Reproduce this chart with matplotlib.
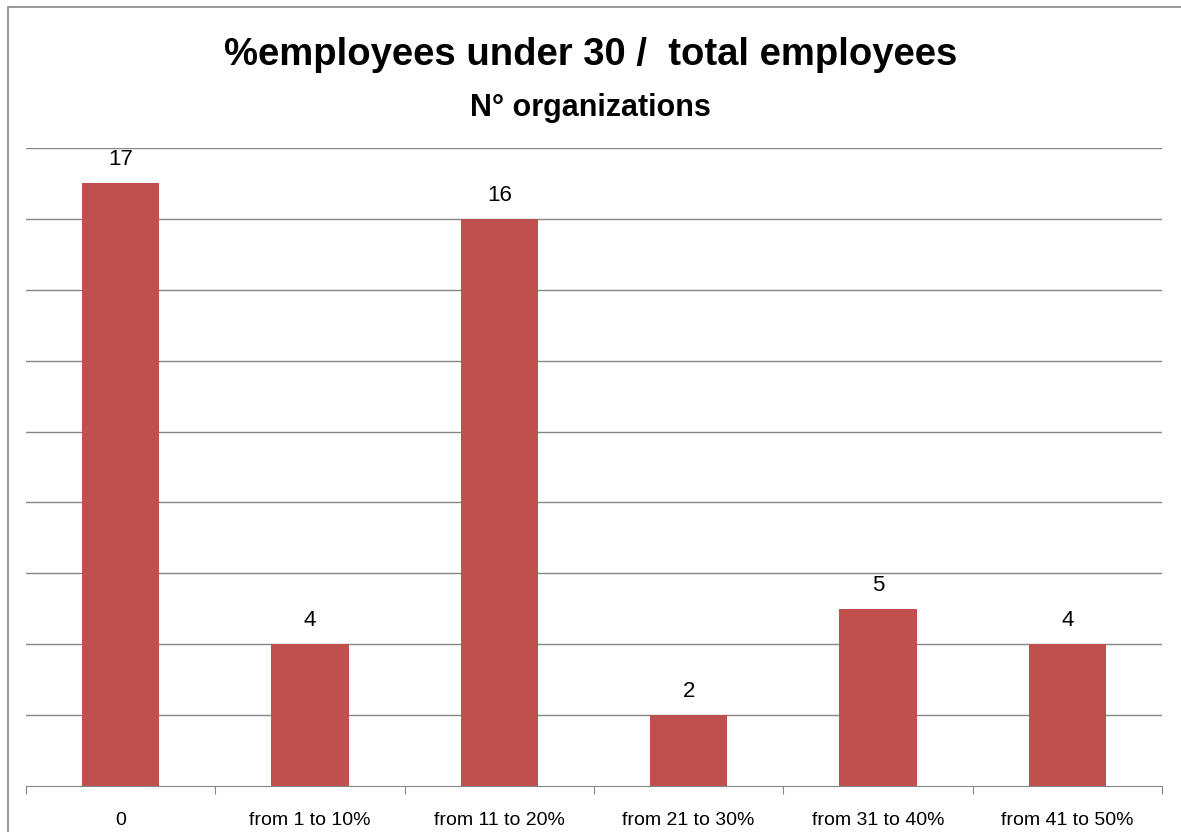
import numpy as np
import matplotlib
matplotlib.use("Agg")
import matplotlib.pyplot as plt
from matplotlib.patches import Rectangle

# data
categories = ["0", "from 1 to 10%", "from 11 to 20%", "from 21 to 30%",
              "from 31 to 40%", "from 41 to 50%"]
n_orgs = [17, 4, 16, 2, 5, 4]
y_max = 18
grid_step = 2

W, H = 1181, 832
plt.rcParams['font.family'] = ['Liberation Sans', 'DejaVu Sans']

fig = plt.figure(figsize=(W / 100, H / 100), dpi=100)
ax = fig.add_axes([26 / W, 1 - 786 / H, (1162 - 26) / W, (786 - 148) / H])

x = np.arange(len(categories))
ax.bar(x, n_orgs, width=0.41, color="#C0504D", zorder=3)
for xi, v in zip(x, n_orgs):
    ax.annotate(str(v), (xi, v), xytext=(0, 9.5), textcoords="offset points",
                ha="center", va="bottom", fontsize=16)

ax.set_xlim(-0.5, len(categories) - 0.5)
ax.set_ylim(0, y_max)
ax.set_yticks(np.arange(grid_step, y_max + 1, grid_step))
ax.yaxis.grid(True, color="#868686", lw=1)
ax.tick_params(axis="y", left=False, labelleft=False)

# category ticks at boundaries, labels centred
ax.set_xticks(np.arange(-0.5, len(categories)), minor=False)
ax.set_xticklabels([])
ax.set_xticks(x, minor=True)
ax.set_xticklabels(categories, minor=True, fontsize=14)
ax.tick_params(axis="x", which="major", length=6, color="#868686")
ax.tick_params(axis="x", which="minor", length=0, pad=18.5)

for s in ["top", "right", "left"]:
    ax.spines[s].set_visible(False)
ax.spines["bottom"].set_color("#868686")

fig.text(0.5, 1 - 55 / H, "%employees under 30 /  total employees",
         ha="center", va="center", fontsize=27.5, fontweight="bold")
fig.text(0.5, 1 - 108 / H, "N° organizations",
         ha="center", va="center", fontsize=22, fontweight="bold")

# outer chart frame (cropped at right and bottom)
fig.patches.append(Rectangle((8 / W, -0.1), 2, 1 - 7 / H + 0.1,
                             transform=fig.transFigure, fill=False,
                             edgecolor="#868686", lw=1.2))

fig.savefig("out.png", dpi=100)
